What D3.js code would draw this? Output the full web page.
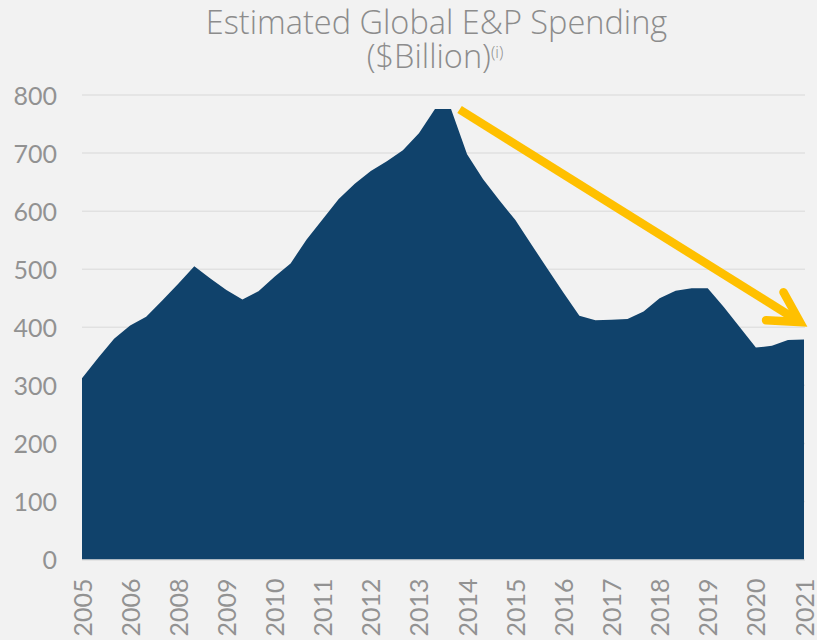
<!DOCTYPE html>
<html>
<head>
<meta charset="utf-8">
<script src="https://cdn.jsdelivr.net/npm/d3@7"></script>
<style>
  html, body { margin: 0; padding: 0; background: #f2f2f2; }
  svg { display: block; }
  text { font-family: Lato, "Open Sans", sans-serif; }
</style>
</head>
<body>
<svg id="chart" width="817" height="640"></svg>
<script>
// ---- data ----
const tickLabels = ["2005","2006","2008","2009","2010","2011","2012","2013","2014","2015","2016","2017","2018","2019","2020","2021"];
const values = [312,347,380,403,418,446,475,505,484,464,448,462,487,510,551,586,621,647,669,686,705,734,776,776,698,655,619,585,543,501,460,420,412,413,414,427,450,463,467,467,435,400,365,368,378,379];
const yTicks = [0,100,200,300,400,500,600,700,800];
const titleLines = ["Estimated Global E&P Spending", "($Billion)"];
const titleSup = "(i)";
const trendFrom = 24, trendTo = 45;           // arrow start/end indices
const trendValues = [775, 409];               // arrow start/end values (visual)

// ---- layout ----
const W = 817, H = 640;
const mLeft = 82, mRight = 804, mTop = 95, mBottom = 559.5;
const svg = d3.select("#chart");

const x = d3.scaleLinear().domain([0, values.length - 1]).range([mLeft, mRight]);
const y = d3.scaleLinear().domain([0, 800]).range([mBottom, mTop]);

// gridlines
svg.append("g").selectAll("line").data(yTicks.filter(d => d > 0)).join("line")
  .attr("x1", mLeft).attr("x2", mRight + 1)
  .attr("y1", d => y(d)).attr("y2", d => y(d))
  .attr("stroke", "#e1e1e1").attr("stroke-width", 1.5);

// area
const area = d3.area().x((d, i) => x(i)).y0(y(0)).y1(d => y(d)).curve(d3.curveLinear);
svg.append("path").datum(values).attr("d", area).attr("fill", "#10426b");

// baseline
svg.append("line").attr("x1", mLeft).attr("x2", mRight + 1).attr("y1", y(0) + 0.5).attr("y2", y(0) + 0.5)
  .attr("stroke", "#d6d6d6").attr("stroke-width", 1);

// y axis
const yAxis = d3.axisLeft(y).tickValues(yTicks).tickSize(0).tickPadding(25);
const gy = svg.append("g").attr("transform", `translate(${mLeft},0)`).call(yAxis);
gy.select(".domain").remove();
gy.selectAll("text").attr("font-size", 25).attr("fill", "#929292").attr("dy", "0.36em")
  .style("font-family", "Lato, 'Open Sans', sans-serif");

// x axis
const xTickIdx = tickLabels.map((d, i) => i * 3);
const xAxis = d3.axisBottom(x).tickValues(xTickIdx).tickFormat((d, i) => tickLabels[i]).tickSize(0);
const gx = svg.append("g").attr("transform", `translate(0,${mBottom})`).call(xAxis);
gx.select(".domain").remove();
gx.selectAll("text")
  .attr("font-size", 25).attr("fill", "#929292")
  .style("font-family", "Lato, 'Open Sans', sans-serif")
  .attr("text-anchor", "end")
  .attr("transform", "rotate(-90)")
  .attr("x", -19).attr("y", 0).attr("dy", "0.36em");

// title (single text element, two lines)
const titleFont = "'Open Sans', Lato, sans-serif";
const title = svg.append("text").attr("text-anchor", "middle")
  .style("font-family", titleFont).attr("font-weight", 300)
  .attr("font-size", 32.5).attr("fill", "#8c8c8c");
title.append("tspan").attr("x", 436.5).attr("y", 34).text(titleLines[0]);
title.append("tspan").attr("x", 435).attr("y", 68).text(titleLines[1]);
title.append("tspan").attr("font-size", 16).attr("dy", -10).text(titleSup);

// trend arrow
const ax0 = x(trendFrom) - 7.5, ay0 = y(trendValues[0]);
const ax1 = x(trendTo) - 4, ay1 = y(trendValues[1]);
const ang = Math.atan2(ay1 - ay0, ax1 - ax0);
const armLen = 34, spread = Math.PI / 6.2;
const arm = a => [ax1 - armLen * Math.cos(a), ay1 - armLen * Math.sin(a)];
const p1 = arm(ang - spread), p2 = arm(ang + spread);
svg.append("line").attr("x1", ax0).attr("y1", ay0).attr("x2", ax1 - 6 * Math.cos(ang)).attr("y2", ay1 - 6 * Math.sin(ang))
  .attr("stroke", "#ffc000").attr("stroke-width", 8.5);
svg.append("path").attr("d", `M${p1[0]},${p1[1]}L${ax1},${ay1}L${p2[0]},${p2[1]}`)
  .attr("fill", "none").attr("stroke", "#ffc000").attr("stroke-width", 8.5)
  .attr("stroke-linecap", "round").attr("stroke-linejoin", "miter");
</script>
</body>
</html>
